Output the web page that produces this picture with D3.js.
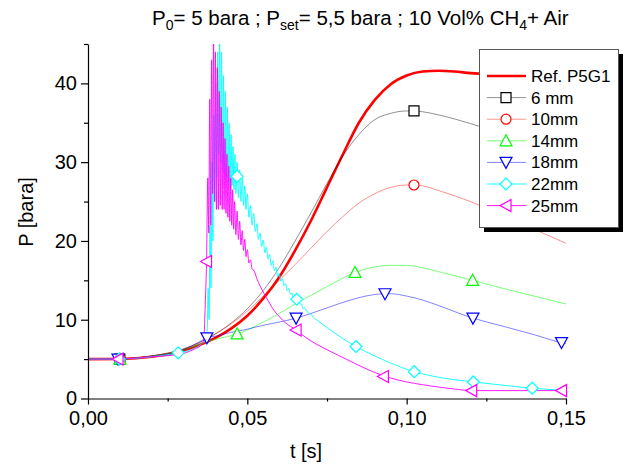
<!DOCTYPE html>
<html>
<head>
<meta charset="utf-8">
<script src="https://cdn.jsdelivr.net/npm/d3@7"></script>
<style>
body { margin: 0; background: #fff; }
text { font-family: "Liberation Sans", Arial, sans-serif; }
</style>
</head>
<body>
<div id="chart"></div>
<script>
// axis ticks
var tTickValues = [0, 0.05, 0.10, 0.15];
var tMinorValues = [0.025, 0.075, 0.125];
var pTickValues = [0, 10, 20, 30, 40];
var pMinorValues = [5, 15, 25, 35, 45];

var seriesNames = ["Ref. P5G1", "6 mm", "10mm", "14mm", "18mm", "22mm", "25mm"];

// [t (s), P (bara)]
var refP5G1 = [[0,5],[0.01,5.02],[0.02,5.3],[0.03,6.1],[0.035,6.8],[0.04,7.7],[0.045,8.9],[0.05,10.5],[0.055,12.7],[0.06,15.4],[0.065,18.8],[0.07,22.6],[0.075,26.8],[0.08,31],[0.085,35],[0.09,37.9],[0.095,39.9],[0.1,41],[0.105,41.5],[0.11,41.6],[0.115,41.5],[0.12,41.3],[0.13,41.1],[0.14,40.9],[0.15,40.7]];

var p6mm = [[0,5],[0.01,5.02],[0.02,5.4],[0.03,6.3],[0.035,7.1],[0.04,8.2],[0.045,9.6],[0.05,11.4],[0.055,13.7],[0.06,16.6],[0.065,20],[0.07,23.6],[0.075,27.3],[0.08,30.8],[0.085,33.5],[0.09,35.4],[0.095,36.2],[0.1,36.5],[0.1023,36.5],[0.105,36.4],[0.11,36],[0.12,34.9],[0.13,33.6],[0.14,32.3],[0.15,31]];
var p6mmMarks = [[0.01,5],[0.1023,36.5]];

var p10mm = [[0,5],[0.01,5.02],[0.02,5.4],[0.03,6.3],[0.035,7.1],[0.04,8.2],[0.045,9.5],[0.05,11.1],[0.055,13],[0.06,15],[0.065,17],[0.07,19.1],[0.075,21.2],[0.08,23.1],[0.085,24.8],[0.09,26],[0.095,26.8],[0.1,27.1],[0.1023,27.1],[0.105,27],[0.11,26.4],[0.12,25],[0.13,23.3],[0.14,21.5],[0.15,19.7]];
var p10mmMarks = [[0.01,5],[0.1023,27.1]];

var p14mm = [[0,5],[0.01,5.02],[0.02,5.35],[0.03,6.2],[0.035,6.9],[0.04,7.5],[0.0468,8.2],[0.05,8.7],[0.055,9.7],[0.06,10.8],[0.065,12],[0.07,13.1],[0.075,14.2],[0.08,15.3],[0.0838,16],[0.09,16.7],[0.095,16.9],[0.1,16.9],[0.105,16.6],[0.11,16.1],[0.1207,15],[0.13,14],[0.14,13],[0.15,12]];
var p14mmMarks = [[0.01,5],[0.0468,8.2],[0.0838,16],[0.1207,15]];

var p18mm = [[0,5],[0.01,5.02],[0.02,5.35],[0.03,6.2],[0.035,7.2],[0.0373,7.7],[0.04,7.9],[0.045,8.4],[0.05,8.8],[0.055,9.3],[0.06,9.7],[0.0653,10.2],[0.07,10.8],[0.075,11.5],[0.08,12.2],[0.085,12.8],[0.09,13.2],[0.0932,13.3],[0.095,13.3],[0.1,13],[0.105,12.5],[0.11,11.8],[0.1208,10.2],[0.13,9.2],[0.14,8.1],[0.1486,7.1],[0.15,7]];
var p18mmMarks = [[0.0094,5],[0.0373,7.7],[0.0653,10.2],[0.0932,13.3],[0.1208,10.2],[0.1486,7.1]];

var p22mm = [[0,5],[0.01,5.02],[0.02,5.3],[0.0283,5.8],[0.033,6.3],[0.037,7.5],[0.0374,8.5],[0.0377,14],[0.038,10],[0.0383,22],[0.0386,14],[0.0389,30],[0.0392,20],[0.0395,36],[0.0398,25],[0.0401,40],[0.0404,28],[0.0407,44],[0.041,31],[0.0413,46],[0.0416,30],[0.0419,44],[0.0422,29],[0.0425,41],[0.0428,28.5],[0.0431,39],[0.0434,28],[0.0437,37],[0.044,27.5],[0.0443,35],[0.0446,27],[0.0449,33.5],[0.0452,27],[0.0455,32],[0.0458,26.5],[0.0461,31],[0.0464,26],[0.0468,30],[0.0472,25.5],[0.0476,29],[0.048,25],[0.0484,28],[0.0488,24.5],[0.0492,27],[0.0496,24],[0.05,26],[0.0505,23],[0.051,24.5],[0.0515,22],[0.052,23.5],[0.0525,21.2],[0.053,22.2],[0.0535,20.2],[0.054,21],[0.0545,19.3],[0.055,20.1],[0.0555,18.5],[0.056,19.2],[0.0565,17.7],[0.057,18.3],[0.0575,16.9],[0.058,17.5],[0.0585,16.2],[0.059,16.7],[0.0595,15.5],[0.06,15.9],[0.0605,14.9],[0.061,15.2],[0.0615,14.3],[0.062,14.6],[0.0625,13.7],[0.063,14],[0.0635,13.2],[0.064,13.4],[0.0645,12.7],[0.065,12.9],[0.0655,12.5],[0.066,12.4],[0.0665,12],[0.067,12],[0.0675,11.4],[0.068,11.5],[0.069,10.9],[0.07,10.7],[0.071,10.2],[0.072,9.9],[0.075,9],[0.08,7.6],[0.0841,6.6],[0.09,5.4],[0.095,4.5],[0.1024,3.4],[0.11,2.7],[0.1209,2.1],[0.13,1.7],[0.1394,1.3],[0.15,1.05]];
var p22mmMarks = [[0.0098,5],[0.0283,5.8],[0.0468,28.2],[0.0655,12.6],[0.0841,6.6],[0.1024,3.4],[0.1209,2.1],[0.1394,1.3]];

var p25mm = [[0,5],[0.01,5.02],[0.02,5.3],[0.0283,5.6],[0.033,6.2],[0.036,7],[0.0364,7.8],[0.0368,12],[0.0372,17.4],[0.0376,28],[0.0379,21],[0.0382,38],[0.0385,22],[0.0388,43],[0.0391,26],[0.0394,46],[0.0397,25],[0.04,44],[0.0403,24],[0.0406,42],[0.0409,24],[0.0412,39],[0.0415,24.5],[0.0418,37],[0.0421,24],[0.0424,35],[0.0427,24],[0.043,33],[0.0433,23.5],[0.0436,31],[0.0439,23],[0.0442,29.5],[0.0445,22.5],[0.0448,28],[0.0451,22],[0.0454,26.5],[0.0457,21.5],[0.046,25],[0.0464,20.8],[0.0468,23.8],[0.0472,20.2],[0.0476,22.5],[0.048,19.5],[0.0484,21.3],[0.0488,18.8],[0.0492,20.2],[0.0496,18],[0.05,18.9],[0.0505,17.2],[0.051,17.6],[0.0515,16.4],[0.052,16.3],[0.053,15.2],[0.054,14.3],[0.055,13.5],[0.056,12.8],[0.058,11.4],[0.06,10.4],[0.062,9.6],[0.0653,8.7],[0.0665,8.3],[0.07,7.3],[0.075,6.2],[0.08,5.2],[0.085,4.2],[0.09,3.3],[0.095,2.6],[0.1,2.1],[0.105,1.75],[0.11,1.45],[0.115,1.2],[0.1204,1],[0.15,1]];
var p25mmMarks = [[0.0094,5],[0.0372,17.4],[0.0653,8.7],[0.0927,2.8],[0.1204,1],[0.1486,1]];

var width = 624, height = 465;

var svg = d3.select("#chart").append("svg").attr("width", width).attr("height", height);

var x = d3.scaleLinear().domain([0, 0.15]).range([88, 566]);
var y = d3.scaleLinear().domain([0, 45]).range([398.5, 44]);

var shapes = {
    square: "M-5,-5H5V5H-5Z",
    circle: "M5,0A5,5 0 1,1 -5,0A5,5 0 1,1 5,0Z",
    up: "M0,-6L6,5H-6Z",
    down: "M0,6L6,-5H-6Z",
    diamond: "M0,-6L6,0L0,6L-6,0Z",
    left: "M-6,0L5,-6V6Z"
};

var series = [
    { data: refP5G1, marks: [], color: "#ff0000", lw: 2.6, op: 1, shape: null },
    { data: p6mm, marks: p6mmMarks, color: "#000000", lw: 0.8, op: 0.55, shape: "square" },
    { data: p10mm, marks: p10mmMarks, color: "#ff0000", lw: 0.8, op: 0.55, shape: "circle" },
    { data: p14mm, marks: p14mmMarks, color: "#00ff00", lw: 0.9, op: 0.6, shape: "up" },
    { data: p18mm, marks: p18mmMarks, color: "#0000ff", lw: 0.9, op: 0.55, shape: "down" },
    { data: p22mm, marks: p22mmMarks, color: "#00ffff", lw: 1, op: 0.9, shape: "diamond" },
    { data: p25mm, marks: p25mmMarks, color: "#ff00ff", lw: 1, op: 0.9, shape: "left" }
];

// title
var title = svg.append("text").attr("x", 152).attr("y", 25).attr("font-size", 20.5).attr("fill", "#000");
title.append("tspan").text("P");
title.append("tspan").attr("font-size", 14).attr("dy", 5).text("0");
title.append("tspan").attr("dy", -5).text("= 5 bara ; P");
title.append("tspan").attr("font-size", 14).attr("dy", 5).text("set");
title.append("tspan").attr("dy", -5).text("= 5,5 bara ; 10 Vol% CH");
title.append("tspan").attr("font-size", 14).attr("dy", 5).text("4");
title.append("tspan").attr("dy", -5).text("+ Air");

svg.append("clipPath").attr("id", "plotclip").append("rect")
    .attr("x", 88).attr("y", 44).attr("width", 566 - 88).attr("height", 398.5 - 44);

var plot = svg.append("g").attr("clip-path", "url(#plotclip)");

var line = d3.line().x(function (d) { return x(d[0]); }).y(function (d) { return y(d[1]); }).curve(d3.curveMonotoneX);

series.forEach(function (s) {
    plot.append("path").datum(s.data)
        .attr("d", line)
        .attr("fill", "none")
        .attr("stroke", s.color)
        .attr("stroke-opacity", s.op)
        .attr("stroke-width", s.lw)
        .attr("stroke-linejoin", "round");
    svg.append("g").selectAll("path").data(s.marks).enter().append("path")
        .attr("d", shapes[s.shape])
        .attr("transform", function (d) { return "translate(" + x(d[0]) + "," + y(d[1]) + ")"; })
        .attr("fill", "#fff")
        .attr("stroke", s.color)
        .attr("stroke-width", 1.2);
});

// axes
var fmtT = function (d) { return d3.format(".2f")(d).replace(".", ","); };

svg.append("g").attr("transform", "translate(0,398.5)")
    .call(d3.axisBottom(x).tickValues(tTickValues).tickFormat(fmtT).tickSize(6).tickSizeOuter(0).tickPadding(6));
svg.append("g").attr("transform", "translate(0,398.5)")
    .call(d3.axisBottom(x).tickValues(tMinorValues).tickFormat("").tickSize(3).tickSizeOuter(0))
    .select(".domain").remove();

svg.append("g").attr("transform", "translate(88,0)")
    .call(d3.axisLeft(y).tickValues(pTickValues).tickSize(7).tickSizeOuter(0).tickPadding(4));
svg.append("g").attr("transform", "translate(88,0)")
    .call(d3.axisLeft(y).tickValues(pMinorValues).tickFormat("").tickSize(4).tickSizeOuter(0))
    .select(".domain").remove();

svg.selectAll(".tick text").attr("font-size", 20).attr("font-family", "'Liberation Sans', Arial, sans-serif").attr("fill", "#000");
svg.selectAll(".domain, .tick line").attr("stroke", "#000").attr("stroke-width", 1.2);

svg.append("text").attr("x", 306).attr("y", 458).attr("text-anchor", "middle")
    .attr("font-size", 20).text("t [s]");
svg.append("text").attr("transform", "translate(33,212)rotate(-90)").attr("text-anchor", "middle")
    .attr("font-size", 20).text("P [bara]");

// legend
var legend = svg.append("g");
legend.append("rect").attr("x", 484).attr("y", 54).attr("width", 139).attr("height", 178).attr("fill", "#000");
legend.append("rect").attr("x", 479.5).attr("y", 49.5).attr("width", 139).attr("height", 178)
    .attr("fill", "#fff").attr("stroke", "#555").attr("stroke-width", 1);

series.forEach(function (s, i) {
    var ly = 76 + i * 21.6;
    legend.append("line").attr("x1", 487).attr("x2", 526).attr("y1", ly).attr("y2", ly)
        .attr("stroke", s.color).attr("stroke-opacity", s.op).attr("stroke-width", s.lw);
    if (s.shape) {
        legend.append("path").attr("d", shapes[s.shape])
            .attr("transform", "translate(506," + ly + ")")
            .attr("fill", "#fff").attr("stroke", s.color).attr("stroke-width", 1.2);
    }
    legend.append("text").attr("x", 531).attr("y", ly + 6).attr("font-size", 17).text(seriesNames[i]);
});
</script>
</body>
</html>
